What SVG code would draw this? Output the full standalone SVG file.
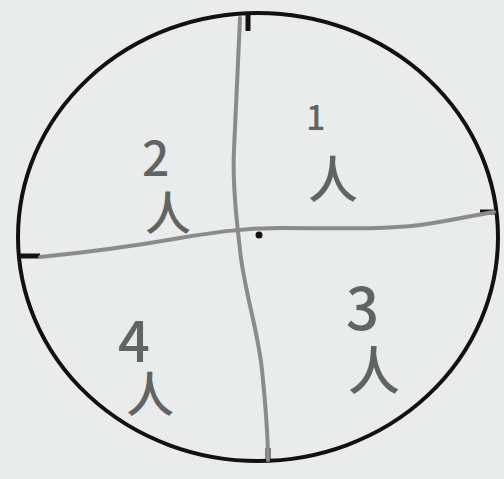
<svg xmlns="http://www.w3.org/2000/svg" width="504" height="479" viewBox="0 0 504 479">
<style>
.pencil{fill:none;stroke:#8a8c8b;stroke-width:4;stroke-linecap:round;stroke-linejoin:round}
.ink{fill:none;stroke:#111;stroke-width:4}
.tick{stroke:#111;stroke-width:5;fill:none}
.hw{font-family:"Noto Sans CJK SC","Noto Sans",sans-serif;fill:#626463;font-weight:500}
</style>
<rect width="504" height="479" fill="#e9ecea"/>
<g id="circle">
<ellipse class="ink" cx="258" cy="237" rx="240" ry="224"/>
<line class="tick" x1="248" y1="13" x2="248" y2="31"/>
<line class="tick" x1="268" y1="461" x2="268" y2="448"/>
<line class="tick" x1="19" y1="256" x2="40" y2="256"/>
<line class="tick" x1="496" y1="212" x2="480" y2="212"/>
</g>
<g id="connectors">
<path class="pencil" d="M240,18 C238,60 236,110 234,150 C232,190 238,230 240,250 C244,290 258,330 262,370 C266,410 268,440 268,460"/>
<path class="pencil" d="M40,257 C90,252 140,245 180,238 C210,233 240,228 280,228 C330,228 380,230 420,225 C450,221 470,216 494,212"/>
<circle cx="259" cy="235" r="3.5" fill="#111"/>
</g>
<g id="q1"><text class="hw"><tspan x="306" y="130" font-size="34">1</tspan><tspan x="308" y="198" font-size="50">人</tspan></text></g>
<g id="q2"><text class="hw"><tspan x="142" y="176" font-size="48">2</tspan><tspan x="145" y="230" font-size="46">人</tspan></text></g>
<g id="q3"><text class="hw"><tspan x="346" y="330" font-size="58">3</tspan><tspan x="348" y="390" font-size="52">人</tspan></text></g>
<g id="q4"><text class="hw"><tspan x="118" y="362" font-size="56">4</tspan><tspan x="126" y="412" font-size="48">人</tspan></text></g>
</svg>
